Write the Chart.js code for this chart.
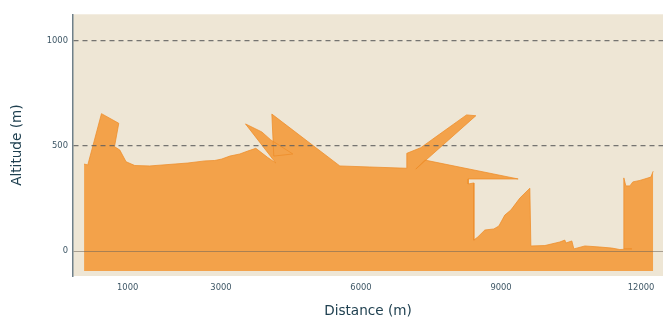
<!DOCTYPE html>
<html>
<head>
<meta charset="utf-8">
<script src="https://cdn.jsdelivr.net/npm/chart.js@4/dist/chart.umd.min.js"></script>
<style>
  body { margin: 0; background: #ffffff; }
  #wrap { width: 663px; height: 317px; }
</style>
</head>
<body>
<div id="wrap"><canvas id="profileChart" width="663" height="317"></canvas></div>
<script>
// track profile, in the order the points were recorded (not sorted by distance)
const distances = [
  66, 146, 439, 810, 718, 831, 966, 1153, 1474, 2289, 2653, 2867, 3017, 3189, 3403, 3574, 3746,
  4003, 4174, 3525, 3746, 3874, 4067, 4539, 4131, 4089, 5546, 6189, 6981, 6981, 7281, 7688,
  8261, 8460, 7174, 7367, 9366, 8295, 8295, 8417, 8417, 8503, 8653, 8846, 8953, 9081, 9210,
  9403, 9617, 9639, 9939, 10260, 10367, 10389, 10517, 10560, 10796, 11117, 11374, 11546,
  11803, 11631, 11631, 11674, 11760, 11824, 11974, 12210, 12260
];
const altitudes = [
  414, 410, 654, 608, 497, 481, 425, 407, 405, 419, 429, 431, 438, 452, 462, 476, 489,
  445, 419, 605, 581, 567, 529, 462, 452, 652, 405, 400, 394, 465, 492, 557,
  648, 644, 390, 433, 343, 343, 319, 324, 52, 67, 100, 105, 119, 171, 195,
  252, 299, 24, 26, 43, 52, 38, 48, 10, 24, 19, 14, 7,
  10, 10, 348, 310, 310, 329, 336, 352, 380
];
const xTickValues = [1000, 3000, 6000, 9000, 12000];
const yTickValues = [0, 500, 1000];
const fillBase = -95;

const plotBackground = {
  id: 'plotBackground',
  beforeDraw(chart) {
    const { ctx, chartArea } = chart;
    ctx.save();
    ctx.fillStyle = '#EEE6D5';
    ctx.fillRect(chartArea.left, chartArea.top, chartArea.right - chartArea.left, chartArea.bottom - chartArea.top);
    ctx.restore();
  }
};

class ProfileChart {
  constructor() {
    this.canvas = document.getElementById('profileChart');
    this.draw();
  }
  draw() {
    const ctx = this.canvas.getContext('2d');
    const points = distances.map((d, i) => ({ x: d, y: altitudes[i] }));
    const tickFont = { family: 'DejaVu Sans', size: 8.4 };
    const titleFont = { family: 'DejaVu Sans', size: 13.6, lineHeight: 1 };
    const plain = (v) => String(v);

    new Chart(ctx, {
      type: 'line',
      data: {
        datasets: [{
          label: 'Altitude',
          data: points,
          borderColor: 'rgba(238,140,40,0.75)',
          backgroundColor: '#F3A24A',
          borderWidth: 1,
          pointRadius: 0,
          tension: 0,
          fill: { value: fillBase }
        }]
      },
      options: {
        responsive: false,
        animation: false,
        layout: { padding: { top: 14.3, right: 0, left: 0, bottom: 0 } },
        scales: {
          x: {
            type: 'linear',
            min: -171,
            max: 12470,
            afterBuildTicks: (scale) => { scale.ticks = xTickValues.map(v => ({ value: v })); },
            afterFit: (scale) => { scale.height = 41; },
            grid: { display: false, drawTicks: false },
            border: { display: false },
            ticks: { font: tickFont, color: '#3e5766', padding: 7, maxRotation: 0, callback: plain },
            title: { display: true, text: 'Distance (m)', font: titleFont, color: '#1f4050', padding: { top: 0, bottom: -1.5 } }
          },
          y: {
            min: -119,
            max: 1127,
            afterBuildTicks: (scale) => { scale.ticks = yTickValues.map(v => ({ value: v })); },
            afterFit: (scale) => { scale.width = 73; },
            grid: {
              z: 1,
              drawTicks: false,
              color: (c) => c.tick && c.tick.value === 0 ? 'rgba(110,100,90,0.55)' : 'rgba(95,95,95,0.85)',
              lineWidth: (c) => c.tick && c.tick.value === 0 ? 1 : 1.3
            },
            border: {
              z: 2,
              color: '#6f808a',
              width: 1.5,
              dash: (c) => c.tick && c.tick.value > 0 ? [5, 4] : []
            },
            ticks: { font: tickFont, color: '#3e5766', padding: 5, callback: plain },
            title: { display: true, text: 'Altitude (m)', font: titleFont, color: '#1f4050', padding: { top: 11, bottom: 0 } }
          }
        },
        plugins: {
          legend: { display: false },
          tooltip: { enabled: false }
        }
      },
      plugins: [plotBackground]
    });
  }
}

document.addEventListener('DOMContentLoaded', function () {
  const profile = new ProfileChart();
});
</script>
</body>
</html>
